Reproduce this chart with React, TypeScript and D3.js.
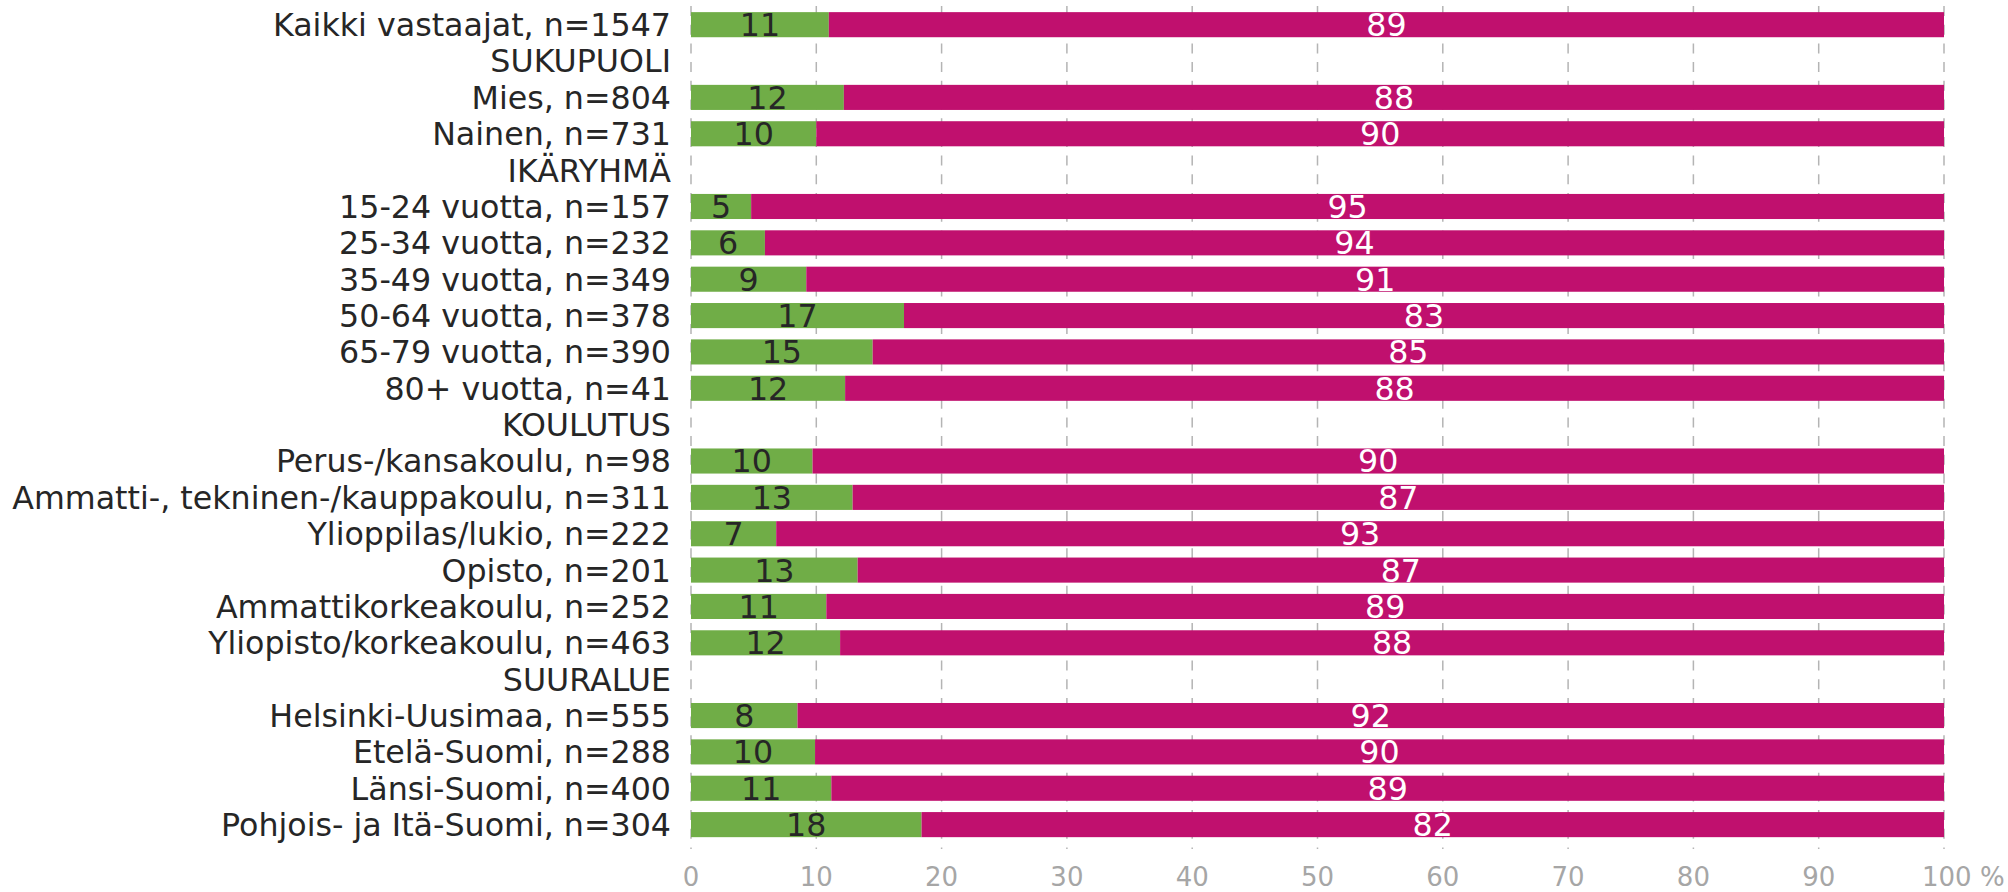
import React from "react";
import * as d3 from "d3";

// row labels, group headers have no bars
const rows = [
  "Kaikki vastaajat, n=1547",
  "SUKUPUOLI",
  "Mies, n=804",
  "Nainen, n=731",
  "IKÄRYHMÄ",
  "15-24 vuotta, n=157",
  "25-34 vuotta, n=232",
  "35-49 vuotta, n=349",
  "50-64 vuotta, n=378",
  "65-79 vuotta, n=390",
  "80+ vuotta, n=41",
  "KOULUTUS",
  "Perus-/kansakoulu, n=98",
  "Ammatti-, tekninen-/kauppakoulu, n=311",
  "Ylioppilas/lukio, n=222",
  "Opisto, n=201",
  "Ammattikorkeakoulu, n=252",
  "Yliopisto/korkeakoulu, n=463",
  "SUURALUE",
  "Helsinki-Uusimaa, n=555",
  "Etelä-Suomi, n=288",
  "Länsi-Suomi, n=400",
  "Pohjois- ja Itä-Suomi, n=304",
];

// green share (%)
const greenPct = [11.0, null, 12.2, 10.0, null, 4.8, 5.9, 9.2, 17.0, 14.5, 12.3, null, 9.7, 12.9, 6.8, 13.3, 10.8, 11.9, null, 8.5, 9.9, 11.2, 18.4];
// magenta share (%)
const magentaPct = [89.0, null, 87.8, 90.0, null, 95.2, 94.1, 90.8, 83.0, 85.5, 87.7, null, 90.3, 87.1, 93.2, 86.7, 89.2, 88.1, null, 91.5, 90.1, 88.8, 81.6];

const greenLabels = [11, null, 12, 10, null, 5, 6, 9, 17, 15, 12, null, 10, 13, 7, 13, 11, 12, null, 8, 10, 11, 18];
const magentaLabels = [89, null, 88, 90, null, 95, 94, 91, 83, 85, 88, null, 90, 87, 93, 87, 89, 88, null, 92, 90, 89, 82];

const xTicks = [0, 10, 20, 30, 40, 50, 60, 70, 80, 90, 100];

export default function App() {
  const width = 2008;
  const height = 892;
  const font = "'DejaVu Sans', sans-serif";
  const labelSize = 31.7;

  const green = "#70AD47";
  const magenta = "#C0106E";

  const x = d3.scaleLinear().domain([0, 100]).range([691, 1944]);
  const y = d3
    .scaleBand<number>()
    .domain(rows.map((_, i) => i))
    .range([6.5, 842.8])
    .paddingInner(0.31)
    .paddingOuter(0.155);

  const bw = y.bandwidth();

  return (
    <svg
      width={width}
      height={height}
      style={{ position: "absolute", left: 0, top: 0, background: "#fff" }}
      fontFamily={font}
    >
      {/* grid */}
      <g>
        {xTicks.map((t) => (
          <line
            key={t}
            x1={x(t)}
            x2={x(t)}
            y1={6}
            y2={849}
            stroke="#b4b4b4"
            strokeWidth={1.5}
            strokeDasharray="10,8.7"
          />
        ))}
      </g>

      {/* bars */}
      <g>
        {rows.map((r, i) => {
          const g = greenPct[i];
          const m = magentaPct[i];
          if (g === null || m === null) return null;
          const yy = y(i)!;
          return (
            <g key={r}>
              <rect x={x(0)} y={yy} width={x(g) - x(0)} height={bw} fill={green} />
              <rect x={x(g)} y={yy} width={x(g + m) - x(g)} height={bw} fill={magenta} />
              <text
                x={(x(0) + x(g)) / 2}
                y={yy + bw / 2}
                dy="0.36em"
                textAnchor="middle"
                fontSize={labelSize}
                fill="#262626"
              >
                {greenLabels[i]}
              </text>
              <text
                x={(x(g) + x(g + m)) / 2}
                y={yy + bw / 2}
                dy="0.36em"
                textAnchor="middle"
                fontSize={labelSize}
                fill="#ffffff"
              >
                {magentaLabels[i]}
              </text>
            </g>
          );
        })}
      </g>

      {/* category labels */}
      <g>
        {rows.map((r, i) => (
          <text
            key={r}
            x={671}
            y={y(i)! + bw / 2}
            dy="0.36em"
            textAnchor="end"
            fontSize={labelSize}
            fill="#262626"
          >
            {r}
          </text>
        ))}
      </g>

      {/* x axis labels */}
      <g>
        {xTicks.map((t) => (
          <text
            key={t}
            x={x(t)}
            y={886}
            textAnchor={t === 100 ? "start" : "middle"}
            dx={t === 100 ? -22 : 0}
            fontSize={26}
            fill="#a6a6a6"
          >
            {t === 100 ? "100 %" : t}
          </text>
        ))}
      </g>
    </svg>
  );
}
